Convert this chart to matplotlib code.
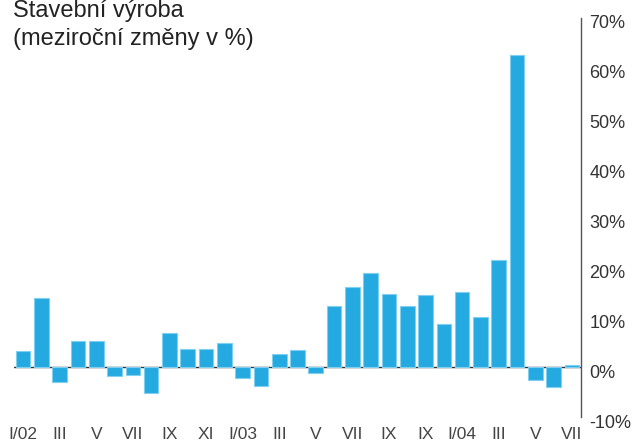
import matplotlib
matplotlib.use("Agg")
import matplotlib.pyplot as plt
import matplotlib.transforms as mtransforms

# monthly y/y change of construction output, I/2002 .. VII/2004
values = [3.3, 13.9, -2.9, 5.3, 5.3, -1.7, -1.5, -5.1, 6.8, 3.6, 3.6, 4.9,
          -2.2, -3.8, 2.7, 3.4, -1.1, 12.2, 16.0, 18.9, 14.6, 12.2, 14.5, 8.7,
          15.1, 10.0, 21.5, 62.6, -2.5, -3.9, 0.4]
xlabels = ["I/02", "III", "V", "VII", "IX", "XI", "I/03", "III", "V", "VII",
           "IX", "IX", "I/04", "III", "V", "VII"]
yticks = [-10, 0, 10, 20, 30, 40, 50, 60, 70]

plt.rcParams["font.family"] = ["Liberation Sans", "DejaVu Sans"]

fig = plt.figure(figsize=(6.32, 4.46), dpi=100)
ax = fig.add_axes([14 / 632, 29 / 446, 567 / 632, 399 / 446])

x = list(range(len(values)))
ax.bar(x, values, width=0.8, color="#25a9e1", edgecolor="#7fd0f0",
       linewidth=0.8, zorder=2)
ax.axhline(0, color="#333333", lw=1.0, zorder=1)

ax.set_xlim(-0.5, len(values) - 0.5)
ax.set_ylim(-10, 70)
ax.set_xticks(x[::2])
ax.set_xticklabels(xlabels)
ax.set_yticks(yticks)
ax.set_yticklabels(["%d%%" % v for v in yticks])
ax.yaxis.tick_right()

for s in ["top", "left", "bottom"]:
    ax.spines[s].set_visible(False)
ax.spines["right"].set_color("#555555")
ax.spines["right"].set_linewidth(1.0)

ax.tick_params(axis="x", length=0, pad=7, labelsize=12.5, labelcolor="#444444")
ax.tick_params(axis="y", length=0, pad=6, labelsize=13, labelcolor="#333333")
shift = mtransforms.ScaledTranslation(0, -4 / 100, fig.dpi_scale_trans)
for lab in ax.get_yticklabels():
    lab.set_transform(lab.get_transform() + shift)

fig.text(13 / 632, 1 - 17 / 446, "Stavební výroba", fontsize=17,
         color="#222222", va="baseline", ha="left")
fig.text(13 / 632, 1 - 45 / 446, "(meziroční změny v %)", fontsize=17,
         color="#222222", va="baseline", ha="left")

fig.savefig("out.png", dpi=100)
